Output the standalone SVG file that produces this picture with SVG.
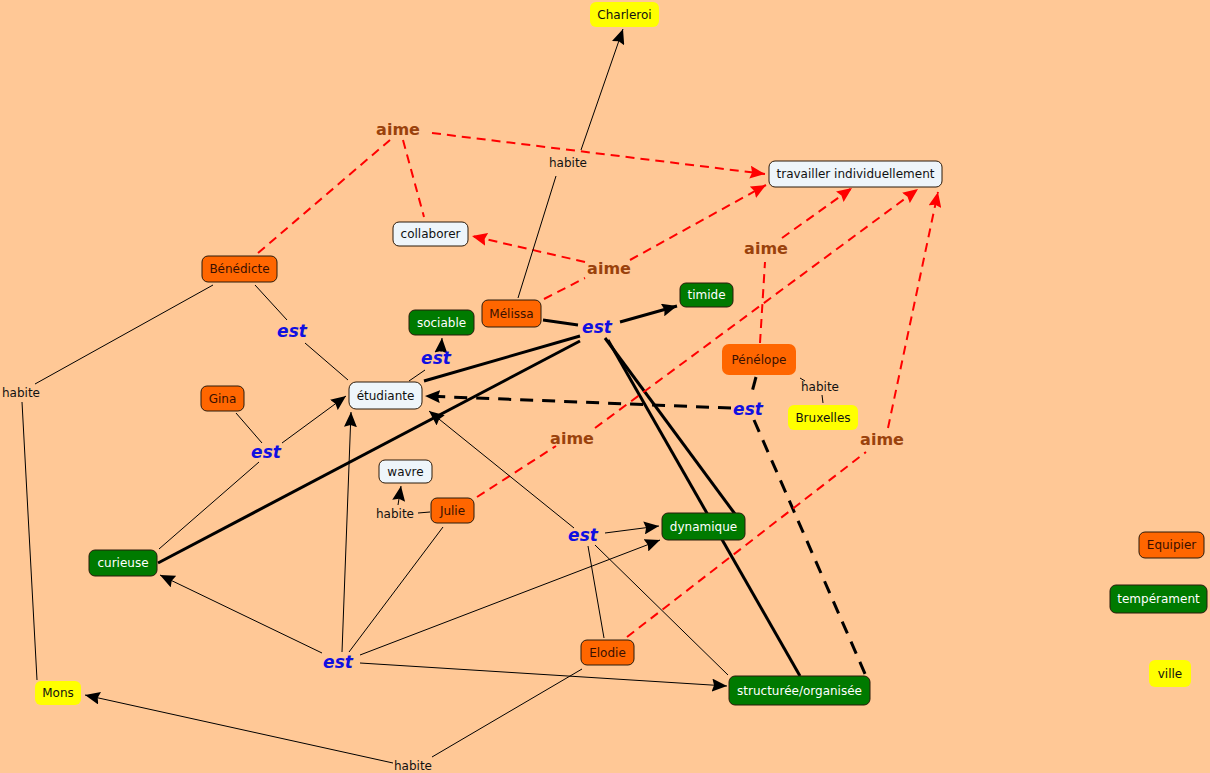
<svg xmlns="http://www.w3.org/2000/svg" width="1210" height="773" viewBox="0 0 1210 773">
<defs>
<marker id="ak" markerUnits="userSpaceOnUse" markerWidth="16" markerHeight="13" refX="15" refY="6.5" orient="auto"><path d="M0,0 L15,6.5 L0,13 L2,6.5 z" fill="#000"/></marker>
<marker id="ar" markerUnits="userSpaceOnUse" markerWidth="16" markerHeight="13" refX="15" refY="6.5" orient="auto"><path d="M0,0 L15,6.5 L0,13 L2,6.5 z" fill="#ff0000"/></marker>
</defs>
<style>
.bg{fill:#ffc896}
.n rect{stroke:#2a1a0a;stroke-width:1}
.n text{font-family:"DejaVu Sans",Verdana,sans-serif;font-size:12px;text-anchor:middle}
.o rect{fill:#ff6600}
.o text{fill:#3a1000}
.g rect{fill:#007a00}
.g text{fill:#ffffff}
.w rect{fill:#eef5fa}
.w text{fill:#111}
.y rect{fill:#ffff00;stroke:none}
.y text{fill:#111}
.t{stroke:#000;stroke-width:1;fill:none}
.k{stroke:#000;stroke-width:3;fill:none}
.kd{stroke:#000;stroke-width:3;fill:none;stroke-dasharray:13,9}
.rd{stroke:#ff0000;stroke-width:2;fill:none;stroke-dasharray:9,6}
.est{font-family:"DejaVu Sans",Verdana,sans-serif;font-size:17px;font-weight:bold;font-style:italic;fill:#1010e0;text-anchor:middle}
.aime{font-family:"DejaVu Sans",Verdana,sans-serif;font-size:16px;font-weight:bold;fill:#9a420c;text-anchor:middle}
.hab{font-family:"DejaVu Sans",Verdana,sans-serif;font-size:12px;fill:#111;text-anchor:middle}
</style>
<rect class="bg" x="0" y="0" width="1210" height="773"/>
<g id="connectors">
<path class="rd" d="M258,253 L390,140"/>
<path class="rd" d="M403,140 L424,217"/>
<path class="rd" d="M432,133 L765,174" marker-end="url(#ar)"/>
<path class="rd" d="M544,299 L585,278"/>
<path class="rd" d="M585,262 L472,236" marker-end="url(#ar)"/>
<path class="rd" d="M630,260 L766,185" marker-end="url(#ar)"/>
<path class="t" d="M518,298 L556,176"/>
<path class="t" d="M581,150 L623,29" marker-end="url(#ak)"/>
<path class="k" d="M543,320 L578,325"/>
<path class="k" d="M620,322 L677,306" marker-end="url(#ak)"/>
<path class="k" d="M580,336 L424,381"/>
<path class="k" d="M580,341 L158,563"/>
<path class="k" d="M605,338 L735,514"/>
<path class="k" d="M608,340 L800,676"/>
<path class="t" d="M255,285 L287,320"/>
<path class="t" d="M305,343 L348,380"/>
<path class="t" d="M213,285 L35,384"/>
<path class="t" d="M22,402 L37,680"/>
<path class="t" d="M409,381 L425,370"/>
<path class="t" d="M441,352 L442,338" marker-end="url(#ak)"/>
<path class="rd" d="M760,343 L765,262"/>
<path class="rd" d="M782,238 L852,188" marker-end="url(#ar)"/>
<path class="t" d="M800,378 L805,381"/>
<path class="t" d="M822,395 L823,403"/>
<path class="kd" d="M756,377 L752,392"/>
<path class="kd" d="M731,408 L425,396" marker-end="url(#ak)"/>
<path class="kd" d="M754,420 L866,676"/>
<path class="t" d="M236,413 L262,443"/>
<path class="t" d="M282,443 L346,396" marker-end="url(#ak)"/>
<path class="t" d="M259,462 L159,549"/>
<path class="rd" d="M477,497 L556,446"/>
<path class="rd" d="M595,428 L918,189" marker-end="url(#ar)"/>
<path class="t" d="M430,512 L418,513"/>
<path class="t" d="M398,505 L401,486" marker-end="url(#ak)"/>
<path class="t" d="M443,527 L349,652"/>
<path class="t" d="M322,653 L160,575" marker-end="url(#ak)"/>
<path class="t" d="M342,652 L351,412" marker-end="url(#ak)"/>
<path class="t" d="M360,655 L660,540" marker-end="url(#ak)"/>
<path class="t" d="M360,663 L727,686" marker-end="url(#ak)"/>
<path class="t" d="M604,638 L588,546"/>
<path class="t" d="M574,528 L429,411" marker-end="url(#ak)"/>
<path class="t" d="M605,533 L659,526" marker-end="url(#ak)"/>
<path class="t" d="M595,545 L728,675"/>
<path class="rd" d="M627,637 L866,452"/>
<path class="rd" d="M888,428 L938,192" marker-end="url(#ar)"/>
<path class="t" d="M582,669 L432,757"/>
<path class="t" d="M393,763 L85,695" marker-end="url(#ak)"/>
</g>
<g id="labels">
<text class="aime" x="398" y="135">aime</text>
<text class="aime" x="609" y="274">aime</text>
<text class="aime" x="766" y="254">aime</text>
<text class="aime" x="572" y="444">aime</text>
<text class="aime" x="882" y="445">aime</text>
<text class="est" x="292" y="337">est</text>
<text class="est" x="436" y="364">est</text>
<text class="est" x="597" y="333">est</text>
<text class="est" x="748" y="415">est</text>
<text class="est" x="266" y="458">est</text>
<text class="est" x="583" y="541">est</text>
<text class="est" x="338" y="668">est</text>
<text class="hab" x="568" y="167">habite</text>
<text class="hab" x="820" y="391">habite</text>
<text class="hab" x="21" y="397">habite</text>
<text class="hab" x="395" y="518">habite</text>
<text class="hab" x="413" y="770">habite</text>
</g>
<g id="n-charleroi" class="n y"><rect x="590" y="2" width="69" height="25" rx="6"/><text x="624.5" y="18.5">Charleroi</text></g>
<g id="n-travailler" class="n w"><rect x="769" y="161" width="173" height="26" rx="6"/><text x="855.5" y="178">travailler individuellement</text></g>
<g id="n-collaborer" class="n w"><rect x="393" y="222" width="75" height="24" rx="6"/><text x="430.5" y="238">collaborer</text></g>
<g id="n-benedicte" class="n o"><rect x="202" y="256" width="75" height="26" rx="6"/><text x="239.5" y="273">Bénédicte</text></g>
<g id="n-melissa" class="n o"><rect x="482" y="300" width="59" height="27" rx="6"/><text x="511.5" y="318">Mélissa</text></g>
<g id="n-sociable" class="n g"><rect x="409" y="310" width="65" height="25" rx="6"/><text x="441.5" y="327">sociable</text></g>
<g id="n-timide" class="n g"><rect x="680" y="283" width="53" height="24" rx="6"/><text x="706.5" y="299">timide</text></g>
<g id="n-penelope" class="n o"><rect x="722" y="344" width="74" height="31" rx="7" style="stroke:none"/><text x="759" y="364">Pénélope</text></g>
<g id="n-gina" class="n o"><rect x="201" y="386" width="43" height="25" rx="6"/><text x="222.5" y="403">Gina</text></g>
<g id="n-etudiante" class="n w"><rect x="349" y="382" width="73" height="27" rx="7"/><text x="385.5" y="400">étudiante</text></g>
<g id="n-bruxelles" class="n y"><rect x="788" y="405" width="70" height="25" rx="6"/><text x="823" y="422">Bruxelles</text></g>
<g id="n-wavre" class="n w"><rect x="379" y="460" width="53" height="23" rx="6"/><text x="405.5" y="476">wavre</text></g>
<g id="n-julie" class="n o"><rect x="431" y="498" width="43" height="25" rx="6"/><text x="452.5" y="515">Julie</text></g>
<g id="n-dynamique" class="n g"><rect x="662" y="513" width="83" height="27" rx="6"/><text x="703.5" y="531">dynamique</text></g>
<g id="n-curieuse" class="n g"><rect x="89" y="550" width="68" height="26" rx="6"/><text x="123" y="567">curieuse</text></g>
<g id="n-elodie" class="n o"><rect x="581" y="640" width="53" height="25" rx="6"/><text x="607.5" y="657">Elodie</text></g>
<g id="n-mons" class="n y"><rect x="35" y="681" width="46" height="24" rx="6"/><text x="58" y="697">Mons</text></g>
<g id="n-structuree" class="n g"><rect x="729" y="676" width="141" height="29" rx="6"/><text x="799.5" y="695">structurée/organisée</text></g>
<g id="n-equipier" class="n o"><rect x="1139" y="532" width="65" height="26" rx="6"/><text x="1171.5" y="549">Equipier</text></g>
<g id="n-temperament" class="n g"><rect x="1110" y="585" width="97" height="28" rx="6"/><text x="1158.5" y="603">tempérament</text></g>
<g id="n-ville" class="n y"><rect x="1149" y="660" width="42" height="27" rx="6"/><text x="1170" y="678">ville</text></g>
</svg>
